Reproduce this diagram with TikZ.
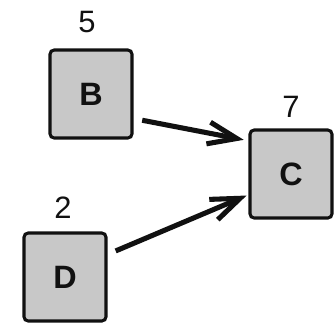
\documentclass[tikz,border=0pt]{standalone}
\usepackage{fontspec}
\setsansfont{Liberation Sans}
\usetikzlibrary{arrows.meta}
\definecolor{ink}{HTML}{111111}
\definecolor{boxgray}{HTML}{C8C8C8}

\begin{document}
\begin{tikzpicture}[font=\sffamily,text=ink,x=0.025cm,y=-0.025cm,
    >={Straight Barb[length=0.72cm,width=0.55cm]},
    card/.style={draw=ink,fill=boxgray,line width=2.2pt,rounded corners=3pt,
      minimum width=2.05cm,minimum height=2.2cm,
      font=\sffamily\bfseries\fontsize{23}{26}\selectfont},
    weight/.style={font=\sffamily\fontsize{22}{25}\selectfont},
    link/.style={->,ink,line width=3.6pt,shorten <=0.22cm,shorten >=0.12cm}]
  \useasboundingbox (0,0) rectangle (336,323);
  \node[card] (B) at (91,94) {B};
  \node[card] (C) at (291,174) {C};
  \node[card] (D) at (65,277) {D};
  \node[weight] (wB) at (87,22) {5};
  \node[weight] (wC) at (291,107) {7};
  \node[weight] (wD) at (63,208) {2};
  \draw[link] (B.-30) -- (C.142);
  \draw[link,shorten >=0.05cm] (D.28) -- (C.206);
\end{tikzpicture}
\end{document}
